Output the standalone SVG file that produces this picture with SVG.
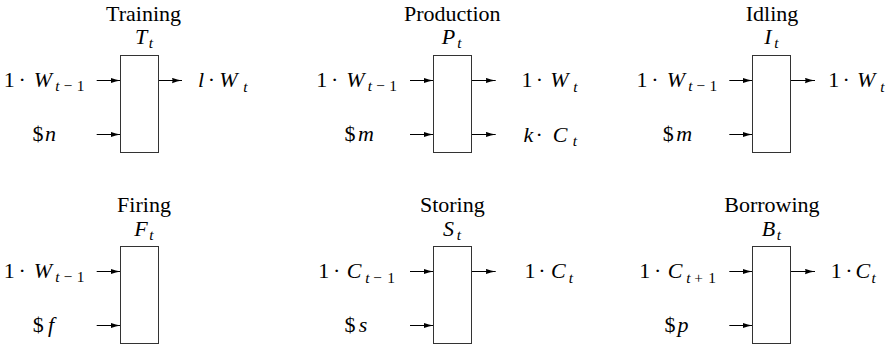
<svg xmlns="http://www.w3.org/2000/svg" width="887" height="349" viewBox="0 0 887 349">
<defs>
<marker id="ah" viewBox="0 0 10 6" refX="10" refY="3" markerWidth="10" markerHeight="6" orient="auto" markerUnits="userSpaceOnUse">
<path d="M0,0.3 Q5,2.2 10,3 Q5,3.8 0,5.7 Q1,3 0,0.3 Z" fill="#000"/>
</marker>
</defs>
<rect width="887" height="349" fill="#fff"/>

<g id="connectors" fill="none" stroke="#000" stroke-width="1" marker-end="url(#ah)">
<path d="M96.7 80.5H120.5"/>
<path d="M96.7 134.5H120.5"/>
<path d="M158.5 80.5H182"/>
<path d="M410 80.5H433.5"/>
<path d="M410 134.5H433.5"/>
<path d="M471.5 80.5H495.7"/>
<path d="M471.5 134.5H495.7"/>
<path d="M729.3 80.5H752.5"/>
<path d="M729.3 134.5H752.5"/>
<path d="M790.5 80.5H815"/>
<path d="M96.7 271.5H120.5"/>
<path d="M96.7 325.5H120.5"/>
<path d="M410 271.5H433.5"/>
<path d="M410 325.5H433.5"/>
<path d="M471.5 271.5H495.7"/>
<path d="M729.3 271.5H752.5"/>
<path d="M729.3 325.5H752.5"/>
<path d="M790.5 271.5H815"/>
</g>

<g id="training">
<rect x="120.5" y="55.5" width="38" height="97" fill="none" stroke="#333" stroke-width="1"/>
<text font-family="Liberation Serif" font-size="22" x="106.1" y="21">Training</text>
<text font-family="Liberation Serif" font-size="22" y="44"><tspan x="134.9" font-style="italic">T</tspan><tspan x="148.85" y="47.5" font-style="italic" font-size="15.4">t</tspan></text>
<text font-family="Liberation Serif" font-size="22" y="86.5"><tspan x="3.7">1</tspan><tspan x="18.45">·</tspan><tspan x="33.85" font-style="italic">W</tspan><tspan x="55.35" y="90.8" font-style="italic" font-size="15.4">t</tspan><tspan x="63.65" y="90.8" font-size="15.4">−</tspan><tspan x="76.65" y="90.8" font-size="15.4">1</tspan></text>
<text font-family="Liberation Serif" font-size="22" y="140.5"><tspan x="32.5">$</tspan><tspan x="45" font-style="italic">n</tspan></text>
<text font-family="Liberation Serif" font-size="22" y="87.3"><tspan x="197.95" font-style="italic">l</tspan><tspan x="207.75">·</tspan><tspan x="219.35" font-style="italic">W</tspan><tspan x="243.35" y="91.6" font-style="italic" font-size="15.4">t</tspan></text>
</g>

<g id="production">
<rect x="433.5" y="55.5" width="38" height="97" fill="none" stroke="#333" stroke-width="1"/>
<text font-family="Liberation Serif" font-size="22" x="404" y="21">Production</text>
<text font-family="Liberation Serif" font-size="22" y="44"><tspan x="441.8" font-style="italic">P</tspan><tspan x="457.35" y="47.5" font-style="italic" font-size="15.4">t</tspan></text>
<text font-family="Liberation Serif" font-size="22" y="86.5"><tspan x="316.2">1</tspan><tspan x="330.95">·</tspan><tspan x="346.35" font-style="italic">W</tspan><tspan x="367.85" y="90.8" font-style="italic" font-size="15.4">t</tspan><tspan x="376.15" y="90.8" font-size="15.4">−</tspan><tspan x="389.15" y="90.8" font-size="15.4">1</tspan></text>
<text font-family="Liberation Serif" font-size="22" y="140.5"><tspan x="344.5">$</tspan><tspan x="358.05" font-style="italic">m</tspan></text>
<text font-family="Liberation Serif" font-size="22" y="87.3"><tspan x="521.5">1</tspan><tspan x="535.75">·</tspan><tspan x="550.35" font-style="italic">W</tspan><tspan x="573.35" y="91.6" font-style="italic" font-size="15.4">t</tspan></text>
<text font-family="Liberation Serif" font-size="22" y="142"><tspan x="523.4" font-style="italic">k</tspan><tspan x="535.55">·</tspan><tspan x="552.65" font-style="italic">C</tspan><tspan x="572.85" y="146.3" font-style="italic" font-size="15.4">t</tspan></text>
</g>

<g id="idling">
<rect x="752.5" y="55.5" width="38" height="97" fill="none" stroke="#333" stroke-width="1"/>
<text font-family="Liberation Serif" font-size="22" x="745.7" y="21">Idling</text>
<text font-family="Liberation Serif" font-size="22" y="44"><tspan x="764.35" font-style="italic">I</tspan><tspan x="774.35" y="47.5" font-style="italic" font-size="15.4">t</tspan></text>
<text font-family="Liberation Serif" font-size="22" y="86.5"><tspan x="636.5">1</tspan><tspan x="651.25">·</tspan><tspan x="666.65" font-style="italic">W</tspan><tspan x="688.15" y="90.8" font-style="italic" font-size="15.4">t</tspan><tspan x="696.45" y="90.8" font-size="15.4">−</tspan><tspan x="709.45" y="90.8" font-size="15.4">1</tspan></text>
<text font-family="Liberation Serif" font-size="22" y="140.5"><tspan x="662.8">$</tspan><tspan x="676.35" font-style="italic">m</tspan></text>
<text font-family="Liberation Serif" font-size="22" y="87.3"><tspan x="828.2">1</tspan><tspan x="842.45">·</tspan><tspan x="857.05" font-style="italic">W</tspan><tspan x="880.15" y="91.6" font-style="italic" font-size="15.4">t</tspan></text>
</g>

<g id="firing">
<rect x="120.5" y="246.5" width="38" height="97" fill="none" stroke="#333" stroke-width="1"/>
<text font-family="Liberation Serif" font-size="22" x="117.1" y="212">Firing</text>
<text font-family="Liberation Serif" font-size="22" y="236"><tspan x="134.3" font-style="italic">F</tspan><tspan x="149.35" y="239.5" font-style="italic" font-size="15.4">t</tspan></text>
<text font-family="Liberation Serif" font-size="22" y="277.5"><tspan x="3.7">1</tspan><tspan x="18.45">·</tspan><tspan x="33.85" font-style="italic">W</tspan><tspan x="55.35" y="281.8" font-style="italic" font-size="15.4">t</tspan><tspan x="63.65" y="281.8" font-size="15.4">−</tspan><tspan x="76.65" y="281.8" font-size="15.4">1</tspan></text>
<text font-family="Liberation Serif" font-size="22" y="331.5"><tspan x="32.8">$</tspan><tspan x="47.95" font-style="italic">f</tspan></text>
</g>

<g id="storing">
<rect x="433.5" y="246.5" width="38" height="97" fill="none" stroke="#333" stroke-width="1"/>
<text font-family="Liberation Serif" font-size="22" x="419.9" y="212">Storing</text>
<text font-family="Liberation Serif" font-size="22" y="236"><tspan x="443" font-style="italic">S</tspan><tspan x="456.85" y="239.5" font-style="italic" font-size="15.4">t</tspan></text>
<text font-family="Liberation Serif" font-size="22" y="278.3"><tspan x="318.2">1</tspan><tspan x="332.95">·</tspan><tspan x="346.65" font-style="italic">C</tspan><tspan x="365.35" y="282.6" font-style="italic" font-size="15.4">t</tspan><tspan x="373.15" y="282.6" font-size="15.4">−</tspan><tspan x="387.15" y="282.6" font-size="15.4">1</tspan></text>
<text font-family="Liberation Serif" font-size="22" y="331.5"><tspan x="344.5">$</tspan><tspan x="358.7" font-style="italic">s</tspan></text>
<text font-family="Liberation Serif" font-size="22" y="278.3"><tspan x="524.5">1</tspan><tspan x="538.25">·</tspan><tspan x="550.95" font-style="italic">C</tspan><tspan x="568.85" y="282.6" font-style="italic" font-size="15.4">t</tspan></text>
</g>

<g id="borrowing">
<rect x="752.5" y="246.5" width="38" height="97" fill="none" stroke="#333" stroke-width="1"/>
<text font-family="Liberation Serif" font-size="22" x="724.3" y="212">Borrowing</text>
<text font-family="Liberation Serif" font-size="22" y="236"><tspan x="761.8" font-style="italic">B</tspan><tspan x="776.85" y="239.5" font-style="italic" font-size="15.4">t</tspan></text>
<text font-family="Liberation Serif" font-size="22" y="278.3"><tspan x="639.2">1</tspan><tspan x="653.95">·</tspan><tspan x="667.65" font-style="italic">C</tspan><tspan x="686.35" y="282.6" font-style="italic" font-size="15.4">t</tspan><tspan x="694.15" y="282.6" font-size="15.4">+</tspan><tspan x="708.15" y="282.6" font-size="15.4">1</tspan></text>
<text font-family="Liberation Serif" font-size="22" y="331.5"><tspan x="664.5">$</tspan><tspan x="677.5" font-style="italic">p</tspan></text>
<text font-family="Liberation Serif" font-size="22" y="278.3"><tspan x="830.7">1</tspan><tspan x="845.25">·</tspan><tspan x="855.45" font-style="italic">C</tspan><tspan x="871.55" y="282.6" font-style="italic" font-size="15.4">t</tspan></text>
</g>
</svg>
